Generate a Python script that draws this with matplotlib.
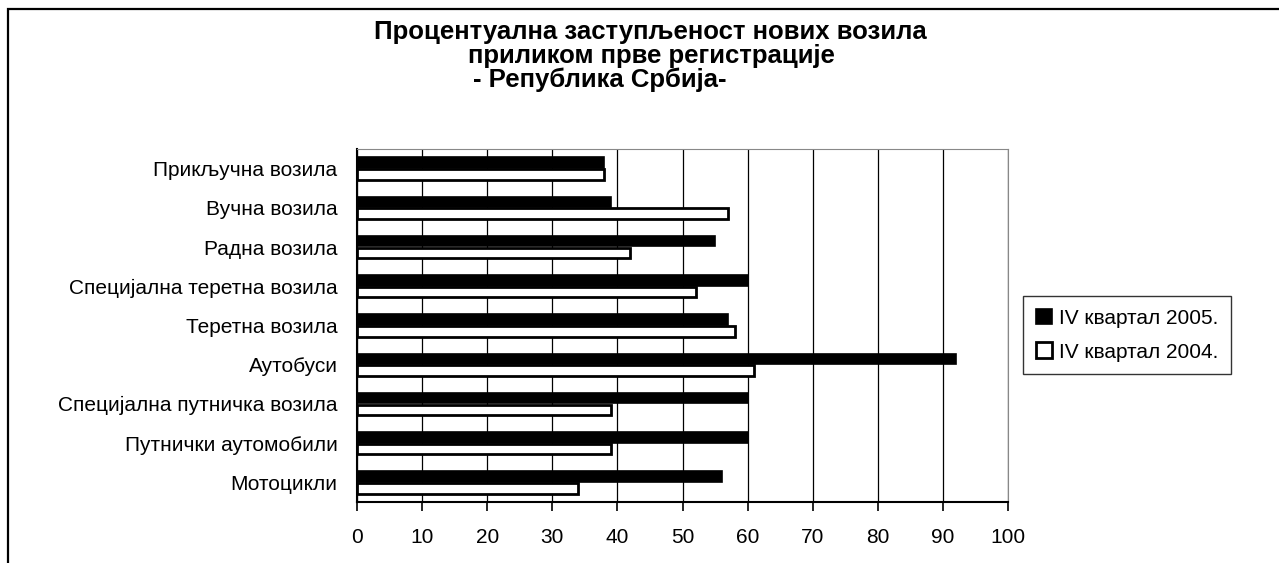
import matplotlib.pyplot as plt
from matplotlib.patches import Rectangle

plt.rcParams["font.family"] = ["Liberation Sans", "DejaVu Sans"]

categories = [
    "Мотоцикли",
    "Путнички аутомобили",
    "Специјална путничка возила",
    "Аутобуси",
    "Теретна возила",
    "Специјална теретна возила",
    "Радна возила",
    "Вучна возила",
    "Прикључна возила",
]
q4_2005 = [56, 60, 60, 92, 57, 60, 55, 39, 38]
q4_2004 = [34, 39, 39, 61, 58, 52, 42, 57, 38]
series_names = ["IV квартал 2005.", "IV квартал 2004."]
x_ticks = list(range(0, 101, 10))

W, H = 1279, 563
fig = plt.figure(figsize=(W / 100, H / 100), dpi=100)

# outer chart frame (cropped on the right and bottom)
fig.add_artist(Rectangle((8 / W, -0.1), 1.2, 1.1 - 9 / H, transform=fig.transFigure,
                         fill=False, edgecolor="black", linewidth=1.6))

ax = fig.add_axes([357 / W, 1 - 502 / H, (1008 - 357) / W, (502 - 149) / H])

pos = list(range(len(categories)))
h = 0.27
ax.barh([p + 0.15 for p in pos], q4_2005, height=h, color="black",
        edgecolor="black", linewidth=1.2, label=series_names[0], zorder=3)
ax.barh([p - 0.15 for p in pos], q4_2004, height=h, color="white",
        edgecolor="black", linewidth=2.0, label=series_names[1], zorder=3)

ax.set_xlim(0, 100)
ax.set_ylim(-0.5, len(categories) - 0.5)
ax.set_xticks(x_ticks)
ax.set_yticks(pos)
ax.set_yticklabels(categories)
ax.tick_params(axis="y", length=0, pad=14, labelsize=15)
ax.tick_params(axis="x", direction="out", length=6.5, width=1.2, pad=12, labelsize=15)
ax.xaxis.grid(True, color="black", linewidth=0.9, zorder=0)
ax.set_axisbelow(True)

ax.spines["left"].set_linewidth(1.5)
ax.spines["bottom"].set_linewidth(1.5)
ax.spines["top"].set_color("#888888")
ax.spines["right"].set_color("#888888")

fig.text(650 / W, 1 - 32 / H, "Процентуална заступљеност нових возила",
         ha="center", va="center", fontsize=18.5, fontweight="bold")
fig.text(651 / W, 1 - 56 / H, "приликом прве регистрације",
         ha="center", va="center", fontsize=18.5, fontweight="bold")
fig.text(600 / W, 1 - 80 / H, "- Република Србија-",
         ha="center", va="center", fontsize=18.5, fontweight="bold")

leg = fig.legend(loc="upper left", bbox_to_anchor=(1023 / W, 1 - 296 / H),
                 borderaxespad=0, fontsize=15, frameon=True, fancybox=False,
                 handlelength=0.8, handleheight=0.8, handletextpad=0.35,
                 borderpad=0.6, labelspacing=0.7)
leg.get_frame().set_edgecolor("black")
leg.get_frame().set_linewidth(1.0)

fig.savefig("out.png", dpi=100)
